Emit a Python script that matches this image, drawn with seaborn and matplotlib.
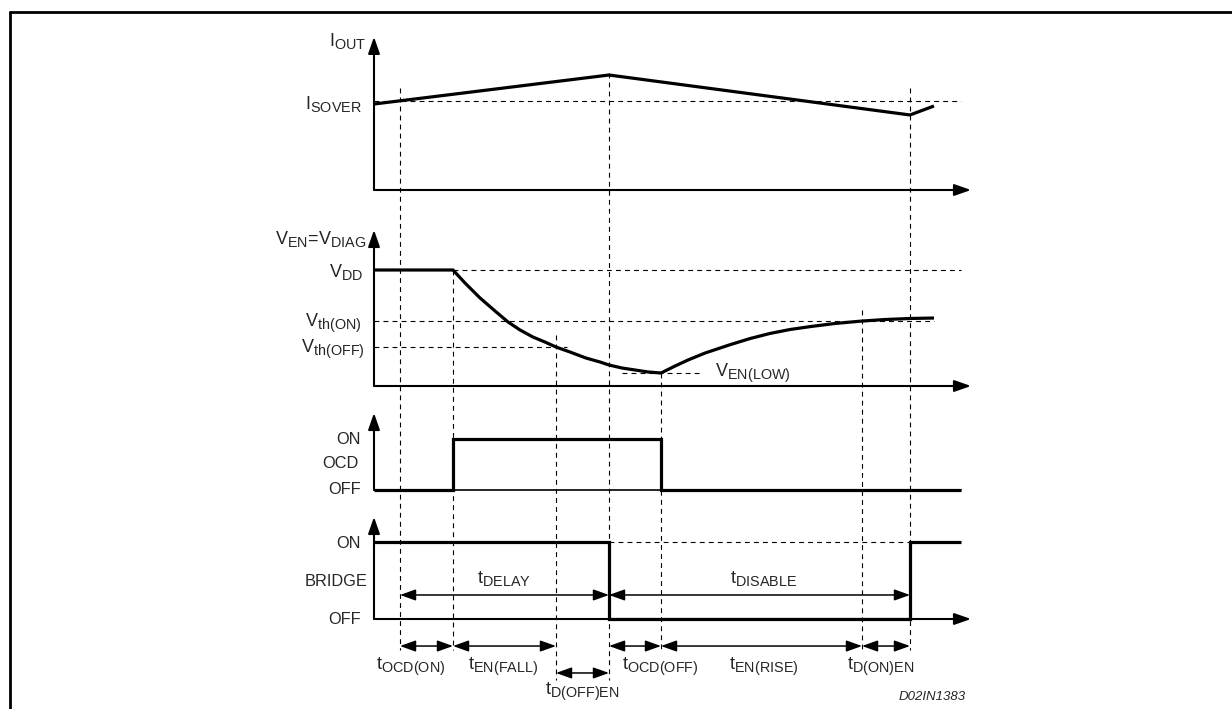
import numpy as np
import pandas as pd
import matplotlib.pyplot as plt
import matplotlib._mathtext as mathtext_mod
import seaborn as sns
from matplotlib.lines import Line2D

sns.set_style('white')
plt.rcParams['font.family'] = ['Liberation Sans', 'DejaVu Sans']
plt.rcParams['mathtext.fontset'] = 'custom'
plt.rcParams['mathtext.rm'] = 'Liberation Sans'
plt.rcParams['mathtext.it'] = 'Liberation Sans:italic'
plt.rcParams['lines.scale_dashes'] = False
# subindices algo mas grandes, como en la hoja de datos
mathtext_mod.SHRINK_FACTOR = 0.8

# Instantes de los eventos (unidades de tiempo arbitrarias, 0 = origen del eje)
ev_t = [2.6, 7.9, 18.2, 23.5, 28.7, 48.8, 53.6]
t_end = 58.7
t_axis = 59.7

# Corriente de salida (I_SOVER = 1)
i_t = [0, 23.5, 53.6, 56.0]
i_val = [0.966, 1.292, 0.843, 0.944]
i_sover = 1.0

# Tension EN/DIAG (V_DD = 1)
ven_t = [0, 7.9, 9.1, 10.6, 12.1, 13.4, 14.6, 15.9, 17.1, 18.2, 19.6, 21.2,
         22.6, 23.5, 24.8, 26.1, 27.4, 28.7,
         30.1, 31.4, 33.1, 35.5, 37.6, 39.6, 41.6, 43.7, 46.1, 48.8, 51.1,
         53.6, 56.0]
ven_v = [1.0, 1.0, 0.888, 0.759, 0.647, 0.552, 0.483, 0.422, 0.379, 0.336,
         0.293, 0.241, 0.207, 0.181, 0.155, 0.138, 0.121, 0.112,
         0.172, 0.224, 0.284, 0.353, 0.409, 0.453, 0.487, 0.513, 0.539,
         0.560, 0.573, 0.582, 0.586]
v_dd, v_th_on, v_th_off, v_en_low = 1.0, 0.56, 0.336, 0.112

# Senales digitales
ocd_t = [0, 7.9, 7.9, 28.7, 28.7, 58.7]
ocd_v = [0, 0, 1, 1, 0, 0]
bridge_t = [0, 23.5, 23.5, 53.6, 53.6, 58.7]
bridge_v = [1, 1, 0, 0, 1, 1]

W, H = 1232, 709
X0 = -37.4
X1 = X0 + W / 10.0

fig = plt.figure(figsize=(W / 100, H / 100), dpi=100)


def panel(base, unit):
    ax = fig.add_axes([0, 0, 1, 1])
    ax.set_xlim(X0, X1)
    ax.set_ylim((base - H) / unit, base / unit)
    ax.axis('off')
    return ax


def arrow(ax, x0, y0, x1, y1, style='-|>', lw=1.5, hl=1.0, hw=0.35):
    ax.annotate('', xy=(x1, y1), xytext=(x0, y0), annotation_clip=False,
                arrowprops=dict(arrowstyle=f'{style},head_length={hl},head_width={hw}',
                                lw=lw, color='black', shrinkA=0, shrinkB=0,
                                mutation_scale=10))


def signal(ax, x, y):
    sns.lineplot(x=x, y=y, ax=ax, color='black', lw=2.3, estimator=None,
                 sort=False, solid_joinstyle='miter', solid_capstyle='butt')


dash = dict(colors='black', lw=0.8, linestyles=(0, (3.5, 3)))

# capa general (y en filas de pixel) para marcas verticales y textos
ax_t = fig.add_axes([0, 0, 1, 1])
ax_t.set_xlim(X0, X1)
ax_t.set_ylim(H, 0)
ax_t.axis('off')

mark_top = [88, 270, 335, 73, 373, 310, 88]
mark_bot = [650, 650, 680, 680, 650, 650, 650]
for t, a, b in zip(ev_t, mark_top, mark_bot):
    ax_t.vlines(t, a, b, **dash)

# Panel 1: I_OUT
ax1 = panel(190, 89)
ax1.hlines(i_sover, 0, t_end, **dash)
signal(ax1, i_t, i_val)
arrow(ax1, 0, 0, 0, 1.72)
arrow(ax1, 0, 0, t_axis, 0)

# Panel 2: V_EN = V_DIAG
ax2 = panel(386, 116)
ax2.hlines(v_dd, ev_t[1], t_end, **dash)
ax2.hlines(v_th_on, 0, 56.0, **dash)
ax2.hlines(v_th_off, 0, 19.3, **dash)
ax2.hlines(v_en_low, 24.8, 32.7, **dash)
signal(ax2, ven_t, ven_v)
arrow(ax2, 0, 0, 0, 1.345)
arrow(ax2, 0, 0, t_axis, 0)

# Panel 3: OCD
ax3 = panel(490, 51)
ax3.plot([0, t_end], [0, 0], color='black', lw=1.2)
signal(ax3, ocd_t, ocd_v)
arrow(ax3, 0, 0, 0, 1.51)

# Panel 4: BRIDGE
ax4 = panel(619, 77)
ax4.hlines(1, ev_t[3], ev_t[6], **dash)
arrow(ax4, 0, 0, t_axis, 0)
signal(ax4, bridge_t, bridge_v)
arrow(ax4, 0, 0, 0, 1.325)

dim = dict(style='<|-|>', lw=1.1, hl=0.95, hw=0.34)
arrow(ax4, ev_t[0], 0.312, ev_t[3], 0.312, **dim)
arrow(ax4, ev_t[3], 0.312, ev_t[6], 0.312, **dim)
for a, b in [(0, 1), (1, 2), (3, 4), (4, 5), (5, 6)]:
    arrow(ax4, ev_t[a], -0.351, ev_t[b], -0.351, **dim)
arrow(ax4, ev_t[2], -0.701, ev_t[3], -0.701, **dim)

# Textos
fs = 11.8
fm = 13
txt = [
    (-0.8, 41, r'$\mathrm{I_{OUT}}$', 'right', fm),
    (-1.2, 104, r'$\mathrm{I_{SOVER}}$', 'right', fm),
    (-0.7, 239, r'$\mathrm{V_{EN}}$=$\mathrm{V_{DIAG}}$', 'right', fm),
    (-1.1, 272, r'$\mathrm{V_{DD}}$', 'right', fm),
    (-1.2, 323, r'$\mathrm{V_{th(ON)}}$', 'right', fm),
    (-0.9, 349, r'$\mathrm{V_{th(OFF)}}$', 'right', fm),
    (-1.3, 439, 'ON', 'right', fs),
    (-3.4, 464, 'OCD', 'center', fs),
    (-1.3, 490, 'OFF', 'right', fs),
    (-1.3, 543, 'ON', 'right', fs),
    (-0.6, 582, 'BRIDGE', 'right', fs),
    (-1.3, 619, 'OFF', 'right', fs),
    (34.1, 373, r'$\mathrm{V_{EN(LOW)}}$', 'left', fm),
    (13.0, 579, r'$\mathrm{t_{DELAY}}$', 'center', fm),
    (39.0, 579, r'$\mathrm{t_{DISABLE}}$', 'center', fm),
    (3.7, 666, r'$\mathrm{t_{OCD(ON)}}$', 'center', fm),
    (12.9, 666, r'$\mathrm{t_{EN(FALL)}}$', 'center', fm),
    (28.6, 666, r'$\mathrm{t_{OCD(OFF)}}$', 'center', fm),
    (39.0, 666, r'$\mathrm{t_{EN(RISE)}}$', 'center', fm),
    (50.7, 666, r'$\mathrm{t_{D(ON)EN}}$', 'center', fm),
    (20.8, 691, r'$\mathrm{t_{D(OFF)EN}}$', 'center', fm),
]
for x, y, s, ha, size in txt:
    ax_t.text(x, y, s, ha=ha, va='center', fontsize=size)

ax_t.text(t_axis - 0.5, 697, 'D02IN1383', ha='right', va='center', fontsize=9.5,
          style='italic')

# Marco
fig.add_artist(Line2D([10 / W, 1], [1 - 12 / H] * 2, transform=fig.transFigure,
                      color='black', lw=2))
fig.add_artist(Line2D([10 / W] * 2, [0, 1 - 12 / H], transform=fig.transFigure,
                      color='black', lw=2))

fig.savefig('out.png', dpi=100)
